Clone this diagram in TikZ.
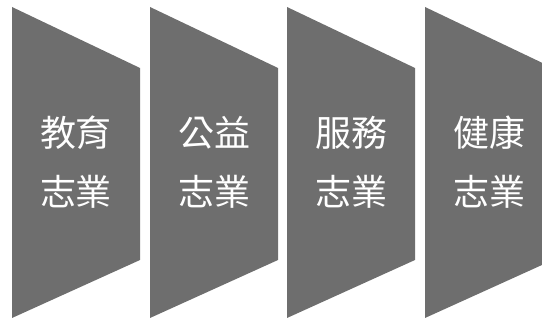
\documentclass[tikz,border=0pt]{standalone}
\usepackage{fontspec}
\newfontfamily\cjk{Noto Sans CJK TC}
\begin{document}
\begin{tikzpicture}[x=1pt,y=1pt,
    panel/.style={fill=black!57},
    label/.style={white,align=center,font=\cjk\fontsize{36}{59}\selectfont}]
    \useasboundingbox (0,0) rectangle (542,320);
    \clip (0,0) rectangle (542,320);
    %draw panels and their texts
    \foreach \x/\word [count=\i] in {12/教育,150/公益,287/服務,425/健康}
        {%
            \fill[panel] (\x,313) -- (\x+128,252) -- (\x+128,60) -- (\x,2) -- cycle;
            \node[label] (word\i) at (\x+64,158) {\word\\志業};
        }
\end{tikzpicture}
\end{document}
